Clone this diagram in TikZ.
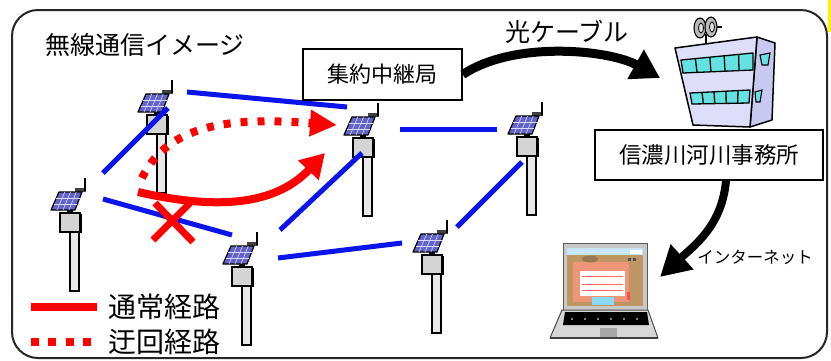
\documentclass[tikz,border=0pt]{standalone}
\usepackage{fontspec}
\newfontfamily\jp{Noto Sans CJK JP}
\usetikzlibrary{arrows.meta}
\definecolor{linkblue}{RGB}{10,20,235}
\definecolor{routered}{RGB}{255,0,0}
\definecolor{boxgray}{RGB}{212,212,212}
\definecolor{polegray}{RGB}{232,232,232}
\definecolor{panelblue}{RGB}{100,100,200}
\definecolor{frontlav}{RGB}{222,222,250}
\definecolor{sidelav}{RGB}{200,200,240}
\definecolor{wincyan}{RGB}{100,225,225}
\definecolor{lidgray}{RGB}{200,200,200}
\definecolor{basegray}{RGB}{215,215,215}
\definecolor{scrsky}{RGB}{200,230,250}
\definecolor{scrtan}{RGB}{190,150,100}
\definecolor{scrsalmon}{RGB}{240,150,120}

\tikzset{
  link/.style={linkblue, line width=5pt},
  route/.style={routered, line width=8pt},
  detour/.style={routered, line width=8pt, dash pattern=on 7pt off 10pt},
  labelbox/.style={draw, line width=1.6pt, fill=white, inner sep=0pt},
  bigarrow/.style={line width=9pt, -{Triangle[length=28pt,width=32pt]}},
  pics/station/.style={code={
    % pole and housing
    \draw[fill=polegray, line width=1.2pt] (10,19) rectangle (19,78);
    \draw[fill=boxgray, line width=1.2pt] (0,0) rectangle (20,19);
    \draw[line width=2pt] (20.5,1) -- (20.5,19.5);
    \fill[black] (7,-4) rectangle (13,0);
    % antenna
    \fill[black!75] (15,-25) rectangle (26,-21);
    \draw[line width=1.2pt] (25,-22) -- (25,-35);
    % solar panel
    \draw[fill=panelblue, line width=1.2pt, line join=round]
      (-9,-3) -- (15,-3) -- (22,-21) -- (-1,-21) -- cycle;
    \foreach \u in {0.25,0.5,0.75}
      \draw[white!85!blue, line width=0.6pt] ({-9+24*\u},-3) -- ({-1+23*\u},-21);
    \foreach \v in {0.3333,0.6667}
      \draw[white!85!blue, line width=0.6pt] ({-9+8*\v},{-3-18*\v}) -- ({15+7*\v},{-3-18*\v});
  }}
}

\begin{document}
\begin{tikzpicture}[x=1pt,y=-1pt]
\useasboundingbox (0,0) rectangle (831,360);
\fill[white] (0,0) rectangle (831,360);
\fill[yellow] (828,0) rectangle (831,32);

% frame
\draw[line width=2pt, black!85, rounded corners=26pt] (12,10) rectangle (827,358);

% field stations
\pic (stA) at (147,115) {station};
\pic (stB) at (60,213) {station};
\pic (stC) at (232,267) {station};
\pic (stD) at (422,255) {station};
\pic (stE) at (353,138) {station};
\pic (stF) at (517,137) {station};

% radio links
\draw[link] (187,92) -- (347,107);
\draw[link] (103,173) -- (168,108);
\draw[link] (103,199) -- (232,235);
\draw[link] (280,230) -- (362,153);
\draw[link] (400,129) -- (497,129);
\draw[link] (457,227) -- (522,162);
\draw[link] (278,258) -- (402,243);

% routes
\coordinate (routeA) at (138,192);
\coordinate (routeB) at (325,153);
\coordinate (detourA) at (142,178);
\coordinate (detourB) at (337,125);
\draw[route, -{Triangle[length=24pt,width=27pt]}] (routeA) .. controls (230,213) and (280,200) .. (routeB);
\draw[detour, -{Triangle[length=27pt,width=25pt]}] (detourA) .. controls (170,120) and (240,118) .. (detourB);

% broken link
\draw[routered, line width=7pt] (155,203) -- (193,242);
\draw[routered, line width=7pt] (190,203) -- (153,240);

% title
\node[anchor=west, inner sep=0pt, font=\jp\fontsize{25}{28}\selectfont] (title) at (45,45) {無線通信イメージ};

% relay box and cable
\node[labelbox, minimum width=159pt, minimum height=51pt, font=\jp\fontsize{22}{26}\selectfont] (relay) at (382.5,74.5) {集約中継局};
\node[inner sep=0pt, font=\jp\fontsize{25}{28}\selectfont] (cable) at (567,32) {光ケーブル};
\coordinate (cabletip) at (660,78);
\draw[bigarrow] (relay.east) .. controls (515,40) and (610,50) .. (cabletip);

% office building
\draw[fill=sidelav, line width=1.5pt, line join=round] (757,37) -- (775,43) -- (772,120) -- (750,127) -- cycle;
\draw[fill=frontlav, line width=1.5pt, line join=round] (675,48) -- (757,37) -- (750,127) -- (693,125) -- cycle;
\draw[fill=wincyan, line width=1.3pt] (681,60) -- (753,53) -- (753,70) -- (683,73) -- cycle;
\foreach \f in {0.2,0.4,0.6,0.8}
  \draw[line width=1.3pt] ({681+72*\f},{60-7*\f}) -- ({683+70*\f},{73-3*\f});
\draw[fill=wincyan, line width=1.3pt] (690,93) -- (750,90) -- (749,103) -- (692,104) -- cycle;
\foreach \f in {0.2,0.4,0.6,0.8}
  \draw[line width=1.3pt] ({690+60*\f},{93-3*\f}) -- ({692+57*\f},{104-1*\f});
\draw[fill=wincyan, line width=1.1pt] (760,55) -- (770,53) -- (768,65) -- (762,65) -- cycle;
\draw[fill=wincyan, line width=1.1pt] (755,92) -- (762,90) -- (760,102) -- (756,102) -- cycle;
% dishes
\draw[line width=1.3pt] (706,34) -- (706,44);
\draw[line width=1.1pt] (713,27) -- (722,27);
\draw[fill=gray!55, line width=1.1pt] (700,28) ellipse (6 and 10);
\draw[fill=gray!25, line width=0.8pt] (701,28) ellipse (2.5 and 5);
\draw[fill=gray!55, line width=1.1pt] (711,27) ellipse (6 and 10);
\draw[fill=gray!25, line width=0.8pt] (712,27) ellipse (2.5 and 5);

\node[labelbox, minimum width=228pt, minimum height=50pt, font=\jp\fontsize{22.5}{26}\selectfont] (office) at (709,155) {信濃川河川事務所};

% internet link
\coordinate (nettip) at (660,277);
\draw[line width=8pt, -{Triangle[length=30pt,width=32pt]}] ([xshift=17pt]office.south) .. controls (722,225) and (695,245) .. (nettip);
\node[inner sep=0pt, font=\jp\fontsize{16.5}{20}\selectfont] (net) at (755,257) {インターネット};

% laptop
\draw[fill=lidgray, draw=gray!70!black, line width=1pt] (563,243) rectangle (647,310);
\fill[scrtan] (567,248) rectangle (643,306);
\fill[scrsky] (567,248) rectangle (643,255);
\fill[white] (630,250) rectangle (642,254);
\fill[scrsalmon] (573,262) rectangle (629,302);
\fill[scrtan!80!black] (590,259) ellipse (8 and 3.5);
\fill[white] (580,271) rectangle (625,296);
\draw[routered!60, line width=0.4pt] (582,276) -- (623,276);
\draw[routered!60, line width=0.4pt] (582,284) -- (623,284);
\draw[routered!60, line width=0.4pt] (582,290) -- (623,290);
\fill[black!70] (628,258) rectangle (631,261);
\fill[black!70] (633,258) rectangle (636,261);
\fill[cyan!45] (592,297) rectangle (614,305);
\fill[red!70] (627,292) rectangle (630,300);
\draw[fill=basegray, draw=gray!60!black, line width=1pt, line join=round] (562,310) -- (648,310) -- (658,338) -- (550,338) -- cycle;
\fill[black] (565,312) -- (647,312) -- (649,325) -- (563,325) -- cycle;
\foreach \k in {572,585,598,611,624,637}
  \fill[white] (\k,319) circle (0.8);
\fill[gray!70] (600,328) rectangle (617,337);
\draw[gray!50!black, line width=1.5pt] (550,338) -- (658,338);

% legend
\coordinate (legA) at (31,307);
\coordinate (legB) at (97,307);
\coordinate (legC) at (31,342);
\coordinate (legD) at (91,342);
\draw[routered, line width=8pt] (legA) -- (legB);
\draw[routered, line width=8pt, dash pattern=on 8pt off 9.3pt] (legC) -- (legD);
\node[anchor=west, inner sep=0pt, font=\jp\fontsize{28}{30}\selectfont] (normal) at (108,307) {通常経路};
\node[anchor=west, inner sep=0pt, font=\jp\fontsize{28}{30}\selectfont] (bypass) at (108,342) {迂回経路};
\end{tikzpicture}
\end{document}
